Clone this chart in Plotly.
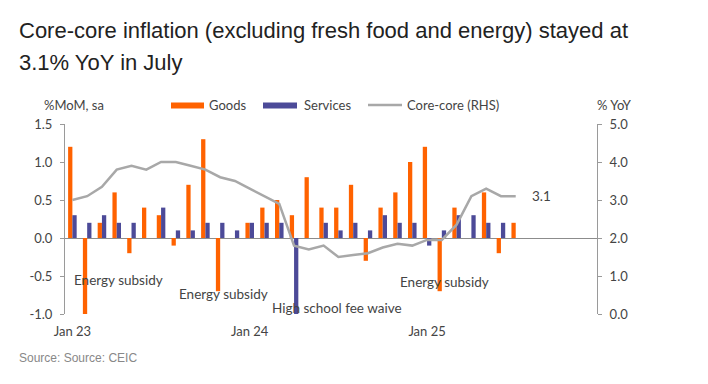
import plotly.graph_objects as go

# ---- data ----
months = list(range(31))  # Jan 23 .. Jul 25
goods = [1.2, -1.0, 0.2, 0.6, -0.2, 0.4, 0.3, -0.1, 0.7, 1.3, -0.7, 0.0,
         0.2, 0.4, 0.5, 0.3, 0.8, 0.4, 0.4, 0.7, -0.3, 0.4, 0.6, 1.0,
         1.2, -0.7, 0.4, 0.0, 0.6, -0.2, 0.2]
services = [0.3, 0.2, 0.3, 0.2, 0.2, 0.0, 0.4, 0.1, 0.1, 0.2, 0.2, 0.1,
            0.2, 0.2, 0.2, -1.0, 0.0, 0.2, 0.1, 0.2, 0.1, 0.3, 0.2, 0.2,
            -0.1, 0.1, 0.3, 0.3, 0.2, 0.2, None]
core_core = [3.0, 3.1, 3.35, 3.8, 3.9, 3.8, 4.0, 4.0, 3.9, 3.8, 3.6, 3.5,
             3.3, 3.1, 2.9, 1.8, 1.7, 1.8, 1.5, 1.55, 1.6, 1.75, 1.85, 1.8,
             1.95, 1.95, 2.35, 3.1, 3.3, 3.1, 3.1]
x_tickvals = [0, 12, 24]
x_ticktext = ["Jan 23", "Jan 24", "Jan 25"]
left_ticks = [-1.0, -0.5, 0.0, 0.5, 1.0, 1.5]
right_ticks = [0.0, 1.0, 2.0, 3.0, 4.0, 5.0]

ORANGE = "#FF6200"
INDIGO = "#4C4A98"
GREY = "#A8A8A8"
TXT = "#444444"
FONT = "Lato"

# page body adds an 8px margin; work in screenshot coordinates
OFF = 8
W, H = 708 - OFF, 384 - OFF
ML, MT = 65 - OFF, 124 - OFF
PW, PH = 532, 190
MR, MB = W - ML - PW, H - MT - PH

def px(X):
    return (X - OFF - ML) / PW

def py(Y):
    return (MT + PH - (Y - OFF)) / PH

fig = go.Figure()
fig.add_trace(go.Bar(x=months, y=goods, name="Goods", marker_color=ORANGE,
                     marker_line_width=0))
fig.add_trace(go.Bar(x=months, y=services, name="Services", marker_color=INDIGO,
                     marker_line_width=0))
fig.add_trace(go.Scatter(x=months, y=core_core, name="Core-core (RHS)", yaxis="y2",
                         mode="lines", line=dict(color=GREY, width=2.5)))

annotations = []
# title
annotations.append(dict(text="Core-core inflation (excluding fresh food and energy) stayed at",
                        xref="paper", yref="paper", x=px(17), y=py(30), xanchor="left",
                        yanchor="middle", showarrow=False,
                        font=dict(family="Liberation Sans", size=22, color="#222222")))
annotations.append(dict(text="3.1% YoY in July",
                        xref="paper", yref="paper", x=px(17), y=py(62), xanchor="left",
                        yanchor="middle", showarrow=False,
                        font=dict(family="Liberation Sans", size=22, color="#222222")))
# source
annotations.append(dict(text="Source: Source: CEIC", xref="paper", yref="paper",
                        x=px(17), y=py(358), xanchor="left", yanchor="middle",
                        showarrow=False,
                        font=dict(family="Liberation Sans", size=12, color="#888888")))
# axis titles
annotations.append(dict(text="%MoM, sa", xref="paper", yref="paper", x=px(42), y=py(105),
                        xanchor="left", yanchor="middle", showarrow=False,
                        font=dict(family=FONT, size=13, color=TXT)))
annotations.append(dict(text="% YoY", xref="paper", yref="paper", x=px(595), y=py(105),
                        xanchor="left", yanchor="middle", showarrow=False,
                        font=dict(family=FONT, size=13, color=TXT)))
# legend texts
for label, X in [("Goods", 207), ("Services", 302), ("Core-core (RHS)", 405)]:
    annotations.append(dict(text=label, xref="paper", yref="paper", x=px(X), y=py(105),
                            xanchor="left", yanchor="middle", showarrow=False,
                            font=dict(family=FONT, size=13, color=TXT)))
# event labels
for label, xv, yv in [("Energy subsidy", -0.05, -0.55),
                      ("Energy subsidy", 7.06, -0.74),
                      ("High school fee waive", 13.37, -0.925),
                      ("Energy subsidy", 22.05, -0.575)]:
    annotations.append(dict(text=label, xref="x", yref="y", x=xv, y=yv,
                            xanchor="left", yanchor="middle", showarrow=False,
                            font=dict(family=FONT, size=13.5, color=TXT)))
# last value label
annotations.append(dict(text=f"{core_core[-1]:.1f}", xref="x", yref="y2", x=months[-1],
                        y=core_core[-1], xanchor="left", yanchor="middle", xshift=14,
                        showarrow=False, font=dict(family=FONT, size=13.5, color=TXT)))

shapes = [
    dict(type="rect", xref="paper", yref="paper", x0=px(171), x1=px(204),
         y0=py(108.5), y1=py(102.5), fillcolor=ORANGE, line_width=0),
    dict(type="rect", xref="paper", yref="paper", x0=px(263), x1=px(297),
         y0=py(108.5), y1=py(102.5), fillcolor=INDIGO, line_width=0),
    dict(type="line", xref="paper", yref="paper", x0=px(368), x1=px(402),
         y0=py(105), y1=py(105), line=dict(color=GREY, width=2.5)),
]

fig.update_layout(
    width=W, height=H,
    margin=dict(l=ML, r=MR, t=MT, b=MB, pad=0),
    paper_bgcolor="white", plot_bgcolor="white",
    barmode="group", bargap=0.42, bargroupgap=0,
    showlegend=False,
    annotations=annotations, shapes=shapes,
    font=dict(family=FONT, size=13, color=TXT),
    xaxis=dict(range=[-0.5, 35.5], tickvals=x_tickvals, ticktext=x_ticktext,
               showgrid=False, zeroline=False, showline=False, ticks="",
               ticklabelstandoff=8,
               tickfont=dict(family=FONT, size=13, color=TXT)),
    yaxis=dict(range=[-1.0, 1.5], tickvals=left_ticks,
               ticktext=[f"{v:.1f}" for v in left_ticks],
               showgrid=False, zeroline=True, zerolinecolor="#8C8C8C", zerolinewidth=1,
               showline=True, linecolor="#9A9A9A", linewidth=1,
               ticks="outside", ticklen=4, tickcolor="#9A9A9A",
               ticklabelstandoff=5,
               tickfont=dict(family=FONT, size=13, color=TXT)),
    yaxis2=dict(range=[0.0, 5.0], overlaying="y", side="right", tickvals=right_ticks,
                ticktext=[f"{v:.1f}" for v in right_ticks],
                showgrid=False, zeroline=False,
                showline=True, linecolor="#9A9A9A", linewidth=1,
                ticks="outside", ticklen=4, tickcolor="#9A9A9A",
                ticklabelstandoff=5,
                tickfont=dict(family=FONT, size=13, color=TXT)),
)

fig.write_html("out.html")
